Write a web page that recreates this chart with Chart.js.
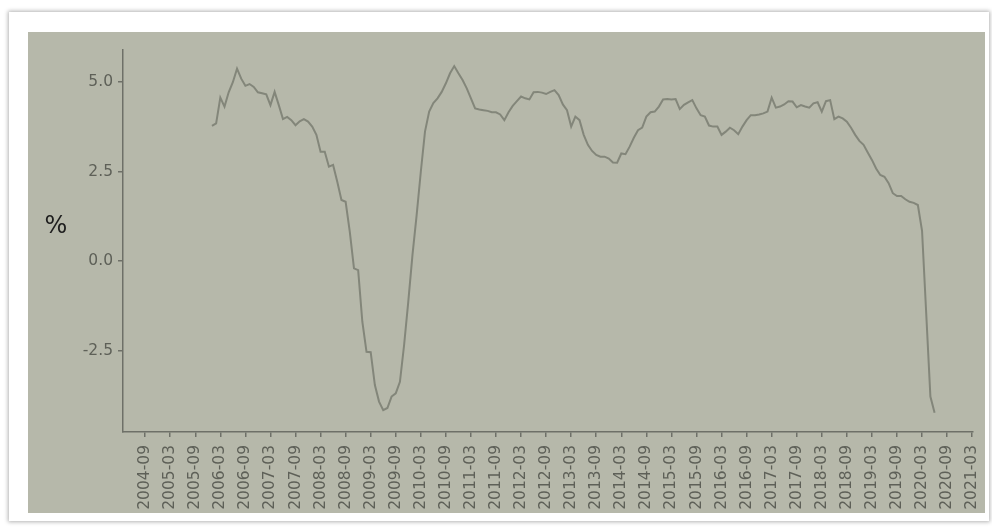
<!DOCTYPE html>
<html>
<head>
<meta charset="utf-8">
<script src="https://cdn.jsdelivr.net/npm/chart.js@4/dist/chart.umd.min.js"></script>
<style>
  html, body { margin: 0; padding: 0; background: #ffffff; width: 992px; height: 528px; overflow: hidden; }
  #card { position: absolute; left: 9px; top: 12px; width: 980px; height: 509px; background: #fff;
          box-shadow: 0 0 4px 1px rgba(0,0,0,0.30); }
  #panel { position: absolute; left: 28px; top: 32px; width: 957px; height: 481px; background: #b6b8aa; }
  #c { position: absolute; left: 0; top: 0; }
</style>
</head>
<body>
<div id="card"></div>
<div id="panel"></div>
<canvas id="c" width="992" height="528"></canvas>
<script>
// Monthly values (%), series starts 2006-01
const startYear = 2006;
const v2006 = [3.78, 3.85, 4.57, 4.32, 4.72, 5.00, 5.38, 5.10, 4.90, 4.95, 4.87, 4.72];
const v2007 = [4.69, 4.66, 4.36, 4.73, 4.36, 3.97, 4.03, 3.94, 3.80, 3.91, 3.97, 3.90];
const v2008 = [3.76, 3.53, 3.06, 3.06, 2.64, 2.69, 2.22, 1.71, 1.66, 0.82, -0.20, -0.25];
const v2009 = [-1.69, -2.53, -2.54, -3.46, -3.92, -4.16, -4.10, -3.78, -3.69, -3.37, -2.34, -1.13];
const v2010 = [0.17, 1.29, 2.50, 3.62, 4.18, 4.42, 4.55, 4.73, 4.97, 5.25, 5.45, 5.25];
const v2011 = [5.06, 4.83, 4.55, 4.27, 4.24, 4.22, 4.20, 4.16, 4.16, 4.10, 3.94, 4.16];
const v2012 = [4.34, 4.47, 4.60, 4.55, 4.52, 4.72, 4.73, 4.71, 4.67, 4.73, 4.78, 4.64];
const v2013 = [4.38, 4.22, 3.76, 4.04, 3.94, 3.53, 3.25, 3.08, 2.97, 2.92, 2.92, 2.87];
const v2014 = [2.76, 2.75, 3.01, 2.99, 3.20, 3.45, 3.66, 3.73, 4.04, 4.16, 4.18, 4.32];
const v2015 = [4.52, 4.53, 4.52, 4.53, 4.25, 4.37, 4.44, 4.50, 4.27, 4.08, 4.04, 3.79];
const v2016 = [3.76, 3.76, 3.53, 3.62, 3.73, 3.66, 3.55, 3.76, 3.94, 4.08, 4.08, 4.10];
const v2017 = [4.13, 4.18, 4.57, 4.29, 4.32, 4.38, 4.47, 4.46, 4.30, 4.36, 4.32, 4.29];
const v2018 = [4.41, 4.44, 4.18, 4.47, 4.50, 3.97, 4.04, 3.99, 3.90, 3.73, 3.53, 3.36];
const v2019 = [3.25, 3.04, 2.83, 2.59, 2.41, 2.36, 2.18, 1.90, 1.82, 1.82, 1.73, 1.66];
const v2020 = [1.63, 1.57, 0.85, -1.46, -3.78, -4.23];

const yearly = [v2006, v2007, v2008, v2009, v2010, v2011, v2012, v2013, v2014, v2015, v2016, v2017, v2018, v2019, v2020];

const xTickLabels = ['2004-09','2005-03','2005-09','2006-03','2006-09','2007-03','2007-09','2008-03','2008-09',
  '2009-03','2009-09','2010-03','2010-09','2011-03','2011-09','2012-03','2012-09','2013-03','2013-09',
  '2014-03','2014-09','2015-03','2015-09','2016-03','2016-09','2017-03','2017-09','2018-03','2018-09',
  '2019-03','2019-09','2020-03','2020-09','2021-03'];
const yTickValues = [-2.5, 0, 2.5, 5];
const yLabel = '%';

// month index helpers (months since 2000-01)
const toIdx = s => { const [y, m] = s.split('-').map(Number); return (y - 2000) * 12 + (m - 1); };
const fromIdx = i => { const y = 2000 + Math.floor(i / 12); const m = (i % 12) + 1; return y + '-' + String(m).padStart(2, '0'); };

const points = [];
yearly.forEach((arr, yi) => arr.forEach((v, mi) => points.push({ x: (startYear + yi - 2000) * 12 + mi, y: v })));

const axisColor = '#6e7068';
const textColor = '#5e6058';
const font = { family: 'DejaVu Sans', size: 15.5 };

const yLabelPlugin = {
  id: 'yLabel',
  afterDraw(chart) {
    const { ctx, chartArea } = chart;
    ctx.save();
    ctx.font = '24px "DejaVu Sans"';
    ctx.fillStyle = '#1e1e1e';
    ctx.textAlign = 'center';
    ctx.textBaseline = 'middle';
    ctx.fillText(yLabel, chartArea.left - 67, (chartArea.top + chartArea.bottom) / 2 - 14);
    ctx.restore();
  }
};

new Chart(document.getElementById('c'), {
  type: 'line',
  data: {
    datasets: [{
      data: points,
      borderColor: '#83867a',
      borderWidth: 2,
      pointRadius: 0,
      tension: 0,
      fill: false
    }]
  },
  options: {
    responsive: false,
    animation: false,
    devicePixelRatio: 1,
    layout: { padding: { top: 50, right: 19, left: 0, bottom: 0 } },
    plugins: { legend: { display: false }, tooltip: { enabled: false } },
    scales: {
      x: {
        type: 'linear',
        min: 50.7,
        max: 254.2,
        afterFit(s) { s.height = 96; s.paddingLeft = 0; s.paddingRight = 0; },
        afterBuildTicks(s) { s.ticks = xTickLabels.map(l => ({ value: toIdx(l) })); },
        border: { display: true, color: axisColor, width: 1.5 },
        grid: { drawOnChartArea: false, drawTicks: true, tickLength: 5, color: axisColor, lineWidth: 1.5 },
        ticks: {
          autoSkip: false, minRotation: 90, maxRotation: 90, padding: 8,
          color: textColor, font,
          callback: v => fromIdx(Math.round(v))
        }
      },
      y: {
        type: 'linear',
        min: -4.77,
        max: 5.9,
        afterFit(s) { s.width = 123; s.paddingTop = 0; s.paddingBottom = 0; },
        afterBuildTicks(s) { s.ticks = yTickValues.map(v => ({ value: v })); },
        border: { display: true, color: axisColor, width: 1.5 },
        grid: { drawOnChartArea: false, drawTicks: true, tickLength: 5, color: axisColor, lineWidth: 1.5 },
        ticks: { color: textColor, font, padding: 5, callback: v => Number(v).toFixed(1) }
      }
    }
  },
  plugins: [yLabelPlugin]
});
</script>
</body>
</html>
